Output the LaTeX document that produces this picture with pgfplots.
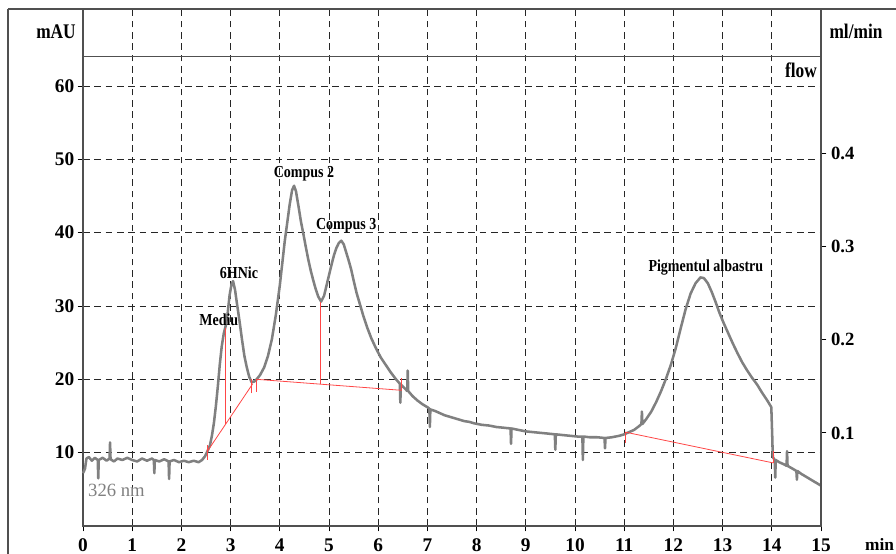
\documentclass[border=0pt]{standalone}
\usepackage{fontspec}
\setmainfont{Liberation Serif}
\usepackage{graphicx}
\usepackage{pgfplots}
\usepackage{pgfplotstable}
\pgfplotsset{compat=1.18}
\definecolor{trace}{RGB}{128,128,128}
\definecolor{basec}{RGB}{255,70,70}
\definecolor{framec}{RGB}{80,80,80}
\newcommand{\tall}[1]{\scalebox{1}[1.2]{#1}}

\pgfplotstableread{
x y
0.00 7.2
0.04 7.8
0.07 9.2
0.12 9.4
0.18 8.9
0.24 9.3
0.30 9.0
0.31 6.5
0.32 9.0
0.40 9.3
0.48 8.9
0.54 9.2
0.55 11.4
0.56 9.1
0.63 8.8
0.70 9.2
0.80 9.0
0.90 9.3
1.00 9.0
1.10 8.8
1.20 9.2
1.30 8.9
1.40 9.2
1.44 9.0
1.45 7.2
1.46 9.0
1.55 8.8
1.65 9.1
1.74 8.8
1.75 6.4
1.76 8.8
1.85 9.0
1.95 8.7
2.05 8.9
2.15 8.7
2.25 8.9
2.35 8.7
2.42 9.0
2.48 9.5
2.53 10.2
2.58 11.0
2.62 12.3
2.66 14.0
2.70 16.3
2.74 19.0
2.78 22.0
2.82 24.5
2.86 26.2
2.90 27.3
2.94 29.0
2.98 31.5
3.02 33.0
3.05 33.4
3.09 32.2
3.13 30.3
3.18 28.0
3.23 25.5
3.28 23.2
3.33 21.6
3.38 20.3
3.43 19.6
3.48 19.7
3.53 20.0
3.60 20.6
3.68 21.6
3.76 23.2
3.84 25.5
3.92 28.8
4.00 32.8
4.05 35.8
4.10 38.8
4.15 41.3
4.20 43.8
4.25 45.8
4.29 46.4
4.33 45.6
4.38 43.6
4.43 41.5
4.48 39.8
4.53 38.0
4.58 36.3
4.63 34.8
4.68 33.5
4.73 32.3
4.78 31.3
4.84 30.6
4.90 31.4
4.95 32.8
5.00 34.2
5.05 35.6
5.10 36.9
5.15 37.9
5.20 38.6
5.25 38.9
5.30 38.4
5.35 37.3
5.40 36.2
5.45 35.0
5.50 33.5
5.56 31.8
5.63 30.2
5.70 28.6
5.78 27.0
5.86 25.6
5.95 24.3
6.05 23.0
6.15 22.0
6.25 21.0
6.35 20.1
6.44 19.4
6.45 16.8
6.46 19.3
6.55 18.7
6.59 18.4
6.60 21.2
6.61 18.4
6.70 17.7
6.80 17.1
6.90 16.6
7.00 16.2
7.04 16.0
7.05 13.5
7.06 15.9
7.15 15.7
7.25 15.4
7.35 15.1
7.45 14.9
7.55 14.7
7.65 14.5
7.75 14.3
7.85 14.2
7.95 14.0
8.10 13.8
8.25 13.7
8.40 13.5
8.55 13.4
8.69 13.3
8.70 11.2
8.71 13.3
8.85 13.1
9.00 12.9
9.15 12.8
9.30 12.7
9.45 12.6
9.59 12.5
9.60 10.4
9.61 12.5
9.75 12.4
9.90 12.3
10.05 12.2
10.15 12.2
10.16 9.0
10.17 12.2
10.30 12.1
10.45 12.1
10.60 12.0
10.61 10.6
10.62 12.0
10.75 12.1
10.90 12.3
11.00 12.5
11.10 12.8
11.20 13.1
11.30 13.6
11.35 13.9
11.36 15.6
11.37 13.9
11.45 14.6
11.55 15.6
11.65 16.9
11.75 18.4
11.85 20.1
11.95 22.0
12.05 24.3
12.15 27.0
12.25 29.6
12.35 31.7
12.45 33.1
12.55 33.9
12.62 33.8
12.70 33.1
12.78 31.9
12.86 30.5
12.94 29.0
13.02 27.7
13.10 26.5
13.20 25.0
13.30 23.6
13.40 22.3
13.50 21.2
13.60 20.2
13.70 19.3
13.80 18.2
13.90 17.2
13.99 16.2
14.01 12.0
14.02 9.4
14.06 9.0
14.07 6.6
14.08 9.0
14.15 8.7
14.25 8.4
14.30 8.2
14.31 10.2
14.32 8.2
14.40 7.9
14.50 7.5
14.51 6.3
14.52 7.5
14.60 7.1
14.70 6.7
14.80 6.3
14.90 5.9
15.00 5.5
}\chrom

\begin{document}
\begin{tikzpicture}
\begin{axis}[
  scale only axis, width=553.5pt, height=387.75pt,
  xmin=0, xmax=15, ymin=0, ymax=70.5,
  xtick={0,1,...,15}, ytick={10,20,30,40,50,60},
  xtick pos=left, ytick pos=left,
  grid=major,
  major grid style={black!85, line width=0.6pt, dash pattern=on 5pt off 3.5pt},
  axis line style={framec, line width=0.8pt},
  tick style={black, line width=0.7pt},
  tick align=outside, major tick length=4pt,
  ticklabel style={font=\bfseries\fontsize{14.5}{14.5}\selectfont},
  xticklabel style={yshift=-2pt},
  yticklabel style={xshift=1pt},
  /pgf/number format/assume math mode=true,
  clip=false,
]
\addplot[trace, line width=1.9pt, line join=round] table[x=x, y=y] {\chrom};
% integration baselines and drop lines
\addplot[basec, line width=0.6pt] coordinates {(2.52,10.1) (3.45,19.4)};
\addplot[basec, line width=0.6pt] coordinates {(2.52,9.0) (2.52,11.0)};
\addplot[basec, line width=0.6pt] coordinates {(2.90,13.9) (2.90,27.0)};
\addplot[basec, line width=0.6pt] coordinates {(3.43,18.1) (3.43,20.0)};
\addplot[basec, line width=0.6pt] coordinates {(3.53,18.3) (3.53,20.0)};
\addplot[basec, line width=0.6pt] coordinates {(3.53,20.0) (6.48,18.5)};
\addplot[basec, line width=0.6pt] coordinates {(4.83,19.34) (4.83,30.5)};
\addplot[basec, line width=0.6pt] coordinates {(6.48,18.5) (6.48,20.2)};
\addplot[basec, line width=0.6pt] coordinates {(11.02,11.3) (11.02,12.8)};
\addplot[basec, line width=0.6pt] coordinates {(11.02,12.8) (14.03,8.6)};
\addplot[basec, line width=0.6pt] coordinates {(14.03,8.6) (14.03,10.2)};
% header separation line
\addplot[framec, line width=0.8pt] coordinates {(0,64) (15,64)};
% peak labels
\begin{scope}[every node/.style={font=\bfseries\fontsize{10.5}{10.5}\selectfont, inner sep=0pt}]
\node at (axis cs:2.76,28.1) {\tall{Mediu}};
\node at (axis cs:3.17,34.6) {\tall{6HNic}};
\node at (axis cs:4.49,48.0) {\tall{Compus 2}};
\node at (axis cs:5.35,40.9) {\tall{Compus 3}};
\node at (axis cs:12.66,35.2) {\tall{Pigmentul albastru}};
\end{scope}
\node[anchor=east, inner sep=0pt, font=\bfseries\fontsize{13}{13}\selectfont] at (axis cs:14.92,62.2) {\tall{flow}};
\node[anchor=west, inner sep=0pt, text=trace, font=\fontsize{14}{14}\selectfont] at (axis cs:0.1,4.8) {326 nm};
\node[inner sep=0pt, font=\bfseries\fontsize{13}{13}\selectfont] at ([xshift=-20.25pt, yshift=-17.25pt]rel axis cs:0,1) {\tall{mAU}};
\node[inner sep=0pt, font=\bfseries\fontsize{13}{13}\selectfont] at ([xshift=26.25pt, yshift=-16.5pt]rel axis cs:1,1) {\tall{ml/min}};
\node[anchor=east, inner sep=0pt, font=\bfseries\fontsize{13}{13}\selectfont] at ([xshift=55pt, yshift=-13.5pt]rel axis cs:1,0) {min};
% outer frame
\draw[framec, line width=0.8pt] ([xshift=-56.25pt]rel axis cs:0,1) -- ([xshift=56.25pt]rel axis cs:1,1);
\draw[framec, line width=0.8pt] ([xshift=-56.25pt]rel axis cs:0,1) -- ([xshift=-56.25pt, yshift=-420pt]rel axis cs:0,1);
\coordinate (sw) at (rel axis cs:0,0);
\coordinate (ne) at (rel axis cs:1,1);
\end{axis}
\begin{axis}[
  scale only axis, width=553.5pt, height=387.75pt,
  xmin=0, xmax=15, ymin=0, ymax=0.5556,
  axis x line=none, axis y line*=right,
  ytick={0.1,0.2,0.3,0.4}, yticklabels={0.1,0.2,0.3,0.4},
  axis line style={framec, line width=0.8pt},
  tick style={black, line width=0.7pt},
  tick align=outside, major tick length=4pt,
  yticklabel style={font=\bfseries\fontsize{14}{14}\selectfont},
  /pgf/number format/assume math mode=true,
]
\addplot[draw=none] coordinates {(0,0) (15,0.5)};
\end{axis}
\pgfresetboundingbox
\path ([shift={(-62.25pt,-21pt)}]sw) rectangle ([shift={(56.25pt,6.75pt)}]ne);
\end{tikzpicture}
\end{document}
